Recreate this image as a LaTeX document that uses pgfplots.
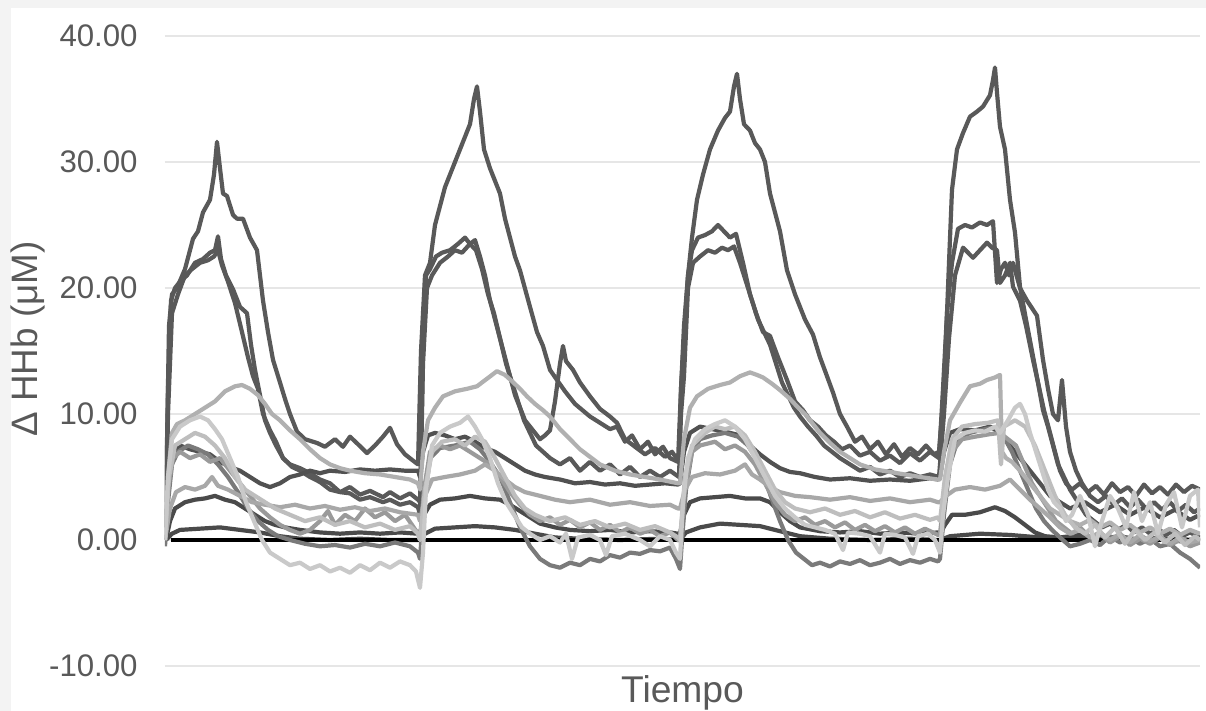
\documentclass[border=0pt]{standalone}
\usepackage{pgfplots}
\pgfplotsset{compat=1.18}
\usepackage{fontspec}
\setmainfont{Liberation Sans}
\definecolor{frame}{HTML}{F3F3F3}
\definecolor{gridc}{HTML}{E6E6E6}
\definecolor{lab}{HTML}{595959}
\definecolor{dA}{HTML}{595959}
\definecolor{dB}{HTML}{515151}
\definecolor{dC}{HTML}{4A4A4A}
\definecolor{mA}{HTML}{7A7A7A}
\definecolor{mB}{HTML}{9A9A9A}
\definecolor{lA}{HTML}{B0B0B0}
\definecolor{lB}{HTML}{C9C9C9}
\definecolor{lC}{HTML}{A8A8A8}
\definecolor{lD}{HTML}{BEBEBE}
\begin{document}
\begin{tikzpicture}
\useasboundingbox (-82.5pt,-22.5pt) rectangle (520.5pt,333pt);
\fill[frame] (-82.5pt,-22.5pt) rectangle (520.5pt,333pt);
\fill[white] (-77pt,-22.5pt) rectangle (520.5pt,329pt);
\begin{axis}[
  scale only axis, width=517.5pt, height=315pt,
  xmin=165, xmax=1200, ymin=-10, ymax=40,
  axis line style={draw=none},
  major tick length=0pt,
  xtick=\empty,
  ytick={-10,0,10,20,30,40},
  ymajorgrids,
  grid style={color=gridc, line width=1pt},
  /pgf/number format/assume math mode=true,
  yticklabel={\pgfmathprintnumber[fixed,fixed zerofill,precision=2]{\tick}},
  yticklabel style={font=\fontsize{15.6}{18}\selectfont, text=lab, anchor=east, inner sep=0pt, xshift=-13.5pt},
  xlabel={Tiempo},
  xlabel style={font=\fontsize{18.6}{21}\selectfont, text=lab, at={(axis description cs:0.5,-0.0143)}, anchor=north, inner sep=0pt},
  ylabel={Δ HHb (μM)},
  ylabel style={font=\fontsize{18.4}{21}\selectfont, text=lab, at={(axis description cs:-0.1324,0.519)}, anchor=center, rotate=0, inner sep=0pt},
  every axis plot/.append style={line width=2.1pt, line join=round, mark=none},
]
% S1 tallest
\addplot[dA] coordinates {(166,3)(169,17)(172,19.5)(177,20)(185,21.5)(193,23.9)(198,24.5)(203,26)(210,27)(214,29)(217,31.6)(220,29.5)(223,27.5)(227,27.3)(233,25.8)(237,25.5)(243,25.5)(250,24)(257,23)(263,19)(268,16.5)(273,14.3)(280,12.5)(285,11.2)(290,10)(297,8.6)(305,8)(317,7.7)(325,7.4)(335,8)(343,7.4)(350,8.2)(358,7.6)(367,6.9)(375,7.5)(383,8.2)(390,8.9)(397,7.6)(405,6.8)(413,6.3)(418,6)
(421,15)(425,21)(430,22)(435,25)(440,26.5)(445,28)(450,29)(455,30)(460,31)(465,32)(470,33)(474,35)(477,36)(480,34)(484,31)(490,29.5)(495,28.5)(500,27.5)(505,25.5)(510,24)(515,22.5)(520,21.4)(530,18.5)(537,16.5)(543,15.4)(550,13.5)(557,12.7)(565,11.8)(575,10.8)(590,9.8)(600,9.3)(610,8.8)(617,9)(625,7.8)(632,8.3)(640,7.2)(648,7.8)(655,6.8)(663,7.4)(670,6.5)(678,6.2)
(681,12)(684,17)(688,21)(692,24)(697,27)(703,29)(710,31)(718,32.5)(725,33.5)(730,34)(734,36)(737,37)(740,35)(744,33)(750,32.5)(755,31.5)(760,31)(765,30)(770,27.5)(775,26)(780,24.5)(787,21.4)(795,19.5)(805,17.5)(813,16.3)(820,14.5)(827,13)(833,11.7)(840,10)(847,9)(855,7.8)(862,8.2)(870,7.2)(878,7.8)(886,6.8)(894,7.6)(902,6.6)(910,7.3)(918,6.8)(926,7.5)(934,6.8)(939,7)
(942,10)(945,14)(949,22)(952,27.8)(957,31)(963,32.3)(970,33.6)(977,34)(983,34.4)(990,35.3)(993,36.5)(995,37.5)(997,35.5)(1000,32.8)(1005,31)(1010,27)(1015,24.4)(1020,20.1)(1026,17.5)(1032,15)(1038,12.5)(1044,10.3)(1050,8.5)(1055,7)(1060,5.5)(1066,4.5)(1072,4)(1080,4.5)(1088,3.8)(1096,4.3)(1104,3.6)(1112,4.5)(1120,3.8)(1128,4.2)(1136,3.5)(1144,4.4)(1152,3.7)(1160,4.2)(1168,3.6)(1176,4.4)(1184,3.8)(1192,4.3)(1200,4)};
% S2
\addplot[dA] coordinates {(166,2)(168,12)(171,19)(175,20)(180,20.5)(187,21)(195,22)(203,22.3)(210,22.8)(215,23)(218,24.1)(221,22.3)(226,21)(233,19.9)(240,18.5)(247,18)(251,15.5)(255,13.5)(260,11.5)(265,9.5)(270,8.5)(276,7.5)(283,6.5)(290,6)(300,5.7)(310,5.3)(320,4.8)(330,4.5)(340,3.8)(350,4.2)(360,3.6)(370,3.9)(383,3.4)(390,3.8)(400,3.3)(410,3.7)(418,3.2)
(420,3)(423,15)(426,21)(430,21.5)(436,22.5)(442,22.8)(450,23)(458,23.5)(465,24)(470,23.5)(475,23.8)(480,22.5)(485,21)(490,19)(495,17.5)(500,16)(505,14.5)(510,13)(515,11.5)(520,10.5)(525,9.5)(530,9)(535,8.5)(540,8)(545,8.3)(550,8.7)(555,11)(560,14)(563,15.4)(566,14.2)(573,13.5)(580,12.5)(590,11.4)(600,10.4)(610,9.8)(617,9.3)(625,8)(635,7.4)(645,6.8)(655,7.3)(665,6.6)(672,7)(679,6.2)
(681,12)(684,16)(688,21)(692,23)(698,24)(705,24.2)(712,24.5)(718,25)(724,24.5)(730,24)(736,24.3)(743,22)(750,19.5)(756,18)(763,16.5)(770,16.2)(778,14.5)(787,12.7)(795,11)(803,10.3)(810,9.5)(818,9)(826,8.3)(834,7.8)(842,7.2)(850,7.5)(860,6.7)(870,7)(880,6.3)(890,6.7)(900,6.1)(910,6.9)(920,6.3)(930,7)(939,6.5)
(943,12)(947,18)(952,22)(958,24.7)(965,25)(972,24.8)(980,25.2)(987,25)(993,25.3)(997,20.4)(1001,21.5)(1005,22)(1009,21)(1013,22)(1020,20)(1027,19)(1037,17.8)(1043,14.3)(1048,12)(1053,10)(1058,9.5)(1062,12.7)(1066,9)(1070,7)(1076,5.5)(1082,4.5)(1090,3.5)(1098,3)(1106,3.5)(1114,2.8)(1122,3.3)(1130,2.6)(1138,3.2)(1146,2.5)(1154,3)(1162,2.4)(1170,3)(1178,2.3)(1186,2.8)(1194,2.2)(1200,2.5)};
% S3
\addplot[dA] coordinates {(166,1)(168,10)(172,18)(178,19.5)(185,21)(192,21.5)(200,22)(208,22.2)(214,22.5)(218,23)(222,21.8)(228,20.5)(235,18.8)(242,16.5)(248,14.5)(253,13)(258,12)(263,10)(270,8.7)(276,7.8)(283,6.5)(292,5.8)(300,5.5)(310,5)(320,4.6)(330,4)(340,3.8)(350,3.7)(360,3.2)(370,3.4)(383,3)(390,3.2)(400,2.8)(410,3)(418,2.6)
(420,2)(423,14)(427,20)(432,21)(440,22)(448,22.5)(455,23)(462,22.8)(470,23.5)(476,23)(482,21.5)(488,19.5)(494,18)(500,16)(506,14)(512,12.5)(518,11)(524,9.5)(530,8.5)(536,7.5)(543,7)(550,6.5)(560,6)(570,6.5)(580,5.5)(590,6.2)(600,5.5)(610,6)(620,5.2)(630,5.8)(640,5)(650,5.5)(660,5)(670,5.5)(679,5)
(681,10)(684,13)(688,20)(693,22)(700,22.5)(708,23)(715,22.8)(722,23.2)(728,23)(734,23.3)(740,22)(746,20.5)(752,19)(758,17.5)(764,16.5)(770,15.5)(776,14)(782,12.5)(788,11.5)(794,10.5)(800,9.8)(808,9)(816,8.3)(824,7.5)(832,7)(840,6.5)(850,6)(860,5.5)(870,5.8)(880,5.2)(890,5.5)(900,5)(910,5.3)(920,5)(930,5.2)(939,5)
(944,10)(949,16)(955,21)(963,23.2)(968,22.8)(973,22.4)(980,23)(987,23.6)(992,23.2)(997,23)(1000,20.4)(1005,21)(1010,22)(1013,20.1)(1020,19)(1026,17)(1033,14.3)(1038,12.5)(1043,10.3)(1048,9)(1053,7.5)(1058,6)(1064,5)(1070,4)(1078,3)(1086,2)(1094,1.5)(1102,1)(1110,1.3)(1118,0.8)(1126,1.2)(1134,0.6)(1142,1)(1150,0.5)(1158,0.9)(1166,0.4)(1174,0.8)(1182,0.3)(1190,0.6)(1200,0.2)};
% S4
\addplot[dB] coordinates {(166,1)(169,5)(173,7)(180,7.5)(190,7.2)(200,7)(210,6.8)(220,6.2)(230,5.8)(240,5.5)(250,5)(260,4.5)(270,4.2)(280,4.5)(290,5)(300,5.2)(310,5.5)(320,5.3)(330,5.5)(345,5.4)(360,5.6)(375,5.5)(390,5.6)(405,5.5)(418,5.5)
(420,5)(423,7)(428,8.3)(435,8.5)(445,8.3)(455,8)(465,8.2)(475,7.8)(485,7.3)(495,7)(505,6.5)(515,6)(525,5.5)(535,5.2)(545,5)(560,4.8)(575,4.5)(590,4.6)(605,4.4)(620,4.5)(635,4.3)(650,4.4)(665,4.5)(678,4.4)
(680,4.5)(684,7)(690,8.5)(700,9)(712,8.8)(725,8.6)(740,8.3)(750,7.5)(760,6.8)(770,6.2)(780,5.7)(790,5.4)(800,5.3)(815,5)(830,4.8)(850,4.9)(870,4.7)(890,4.8)(910,4.7)(930,4.9)(938,4.8)
(940,5)(944,7)(950,8.5)(960,8.8)(975,8.7)(990,9)(1000,8.5)(1010,7.5)(1020,6.5)(1030,5.5)(1040,4.5)(1050,3.5)(1060,3)(1070,2.5)(1085,3)(1100,2.2)(1115,2.8)(1130,2)(1145,2.6)(1160,1.8)(1175,2.4)(1190,1.6)(1200,2)};
% S5
\addplot[dC] coordinates {(166,0)(170,1.5)(175,2.5)(185,3)(195,3.2)(205,3.3)(215,3.5)(225,3.2)(235,3)(245,2.5)(255,2)(265,1.5)(275,1.2)(285,1)(300,0.8)(320,0.6)(340,0.5)(360,0.6)(380,0.5)(400,0.6)(418,0.5)
(420,0.5)(424,2)(430,2.8)(440,3.2)(455,3.3)(470,3.5)(485,3.3)(500,3.2)(510,2.8)(520,2.3)(530,1.8)(540,1.3)(555,1)(570,0.8)(590,0.7)(610,0.8)(630,0.6)(650,0.7)(670,0.6)(678,0.5)
(680,0.5)(684,2)(690,3)(700,3.3)(715,3.4)(730,3.5)(745,3.3)(760,3.3)(770,3)(780,2.2)(790,1.5)(800,1)(820,0.7)(840,0.6)(860,0.7)(880,0.5)(900,0.6)(920,0.5)(938,0.6)
(940,0.5)(945,1.2)(952,2)(965,2)(980,2.2)(995,2.6)(1005,2.3)(1015,1.8)(1025,1.2)(1035,0.6)(1045,0.3)(1060,0.2)(1080,0.4)(1100,0.1)(1120,0.3)(1140,0)(1160,0.2)(1180,-0.1)(1200,0.1)};
% S6
\addplot[dC] coordinates {(166,0)(172,0.5)(180,0.8)(200,0.9)(220,1)(240,0.8)(260,0.6)(280,0.3)(300,0.1)(330,0)(360,0.1)(390,0)(418,0)
(420,0)(425,0.5)(435,0.9)(455,1)(475,1.1)(495,1)(515,0.8)(535,0.5)(555,0.2)(580,0.1)(620,0)(660,0.1)(678,0)
(680,0)(686,0.6)(700,1)(720,1.3)(740,1.2)(760,1.1)(780,0.7)(800,0.3)(830,0.1)(870,0)(910,0.1)(938,0)
(940,0)(950,0.3)(980,0.5)(1010,0.4)(1040,0.2)(1080,0.1)(1120,0)(1160,0.1)(1200,0)};
% zero line
\addplot[black, line width=2pt] coordinates {(171,0)(1200,0)};
% S7 medium, negative baseline
\addplot[mA] coordinates {(165,-0.5)(168,3)(172,6)(178,7)(188,7.5)(198,7.2)(208,6.8)(218,6)(228,5)(238,3.8)(248,2.5)(258,1.5)(268,0.8)(278,0.3)(290,0)(305,-0.3)(320,-0.5)(335,-0.4)(350,-0.6)(365,-0.3)(380,-0.5)(395,-0.2)(410,-0.5)(418,-1)
(420,-1.5)(424,3)(430,6.5)(440,7.3)(455,7.5)(470,7.8)(480,7.2)(490,6.2)(500,5)(510,3)(520,1)(530,-0.5)(540,-1.5)(550,-2)(560,-2.2)(570,-1.8)(580,-2)(590,-1.5)(600,-1.7)(610,-1.2)(620,-1.4)(630,-1)(640,-1.1)(650,-0.8)(660,-0.9)(670,-0.6)(676,-1.5)(680,-2.3)
(682,0)(686,4)(692,7)(700,8)(712,8.3)(725,8.5)(738,8.2)(748,7.5)(756,6.5)(764,5)(772,3.2)(780,1.5)(788,0)(796,-1)(804,-1.5)(812,-2)(820,-1.8)(830,-2.1)(840,-1.7)(850,-1.9)(860,-1.6)(870,-2)(880,-1.8)(890,-1.5)(900,-1.9)(910,-1.6)(920,-1.8)(930,-1.5)(938,-1.7)
(940,-1.5)(944,2)(950,6)(958,8)(970,8.5)(985,8.8)(998,9)(1005,8)(1012,7)(1020,5.5)(1028,4)(1036,2.5)(1044,1.5)(1052,0.8)(1060,0.2)(1070,-0.5)(1080,-0.3)(1090,0)(1100,-0.4)(1110,0.3)(1120,-0.2)(1130,0.2)(1140,-0.3)(1150,0.1)(1160,-0.5)(1170,-0.3)(1180,-1)(1190,-1.5)(1200,-2.2)};
% S11 medium-light
\addplot[mB] coordinates {(165,0)(168,4)(173,6.5)(180,7)(190,6.5)(200,6.8)(210,6.2)(220,6.5)(230,5.5)(240,4.5)(250,3.5)(260,2.5)(270,1.8)(280,1.2)(290,0.8)(300,0.5)(310,0.8)(320,1.5)(328,2.3)(335,1.2)(345,2)(355,1.5)(365,2.5)(375,1.8)(385,2.2)(395,1.5)(405,2)(412,1.2)(418,0.5)
(420,0)(424,4)(430,7)(440,7.5)(450,7.2)(460,7.5)(470,7)(480,6.5)(490,6)(500,5)(510,3.8)(520,2.8)(530,2)(540,1.5)(550,1.8)(560,1.2)(570,1.6)(580,1)(590,1.4)(600,0.8)(610,1.2)(620,0.6)(630,1)(640,0.5)(650,0.8)(660,0.3)(670,0.6)(678,0)
(680,0)(685,4)(692,7)(700,7.5)(715,7.8)(725,7.2)(735,7.5)(745,7)(755,6)(765,4.5)(775,3)(785,2)(795,1.5)(805,1.8)(815,1.2)(825,1.5)(835,1)(845,1.4)(855,0.8)(865,1.2)(875,0.7)(885,1.1)(895,0.6)(905,1)(915,0.5)(925,0.9)(938,0.4)
(940,0.5)(945,4)(952,7)(962,8)(975,8.2)(990,8.4)(1000,8.5)(1008,8)(1016,7.5)(1024,6)(1032,4.5)(1040,3.5)(1048,2.5)(1056,1.5)(1064,1)(1072,0.5)(1080,1)(1090,0.2)(1100,0.5)(1110,-0.2)(1120,0.3)(1130,-0.4)(1140,0.1)(1150,-0.3)(1160,0.2)(1170,-0.4)(1180,0)(1190,-0.5)(1200,-0.2)};
% S10
\addplot[lC] coordinates {(165,0)(170,2.5)(176,3.8)(185,4.2)(195,4)(205,4.3)(212,5)(218,4.3)(228,4)(240,3.5)(252,3)(265,2.8)(280,2.6)(295,2.8)(310,2.5)(325,2.7)(340,2.4)(355,2.6)(370,2.3)(385,2.5)(400,2.2)(418,2)
(420,1.5)(425,3.5)(432,4.8)(445,5)(460,5.2)(475,5.5)(485,6)(495,5.5)(505,4.8)(515,4.2)(525,3.8)(540,3.5)(555,3.2)(570,3)(590,3.2)(610,2.8)(630,3)(650,2.7)(670,2.8)(678,2.5)
(680,2.5)(685,4)(692,5)(705,5.3)(720,5.2)(735,5.5)(745,6)(752,5.2)(760,4.8)(770,4.2)(780,3.8)(795,3.5)(810,3.4)(830,3.2)(850,3.4)(870,3.1)(890,3.3)(910,3)(930,3.2)(938,3)
(940,3)(946,3.5)(955,4)(970,4.2)(985,4)(1000,4.3)(1010,4.8)(1020,4)(1030,3.2)(1040,2.5)(1050,1.8)(1060,1)(1070,0.5)(1080,0.8)(1090,0.2)(1100,0.6)(1110,0)(1120,0.5)(1130,-0.2)(1140,0.4)(1150,-0.1)(1160,0.3)(1170,-0.3)(1180,0.2)(1190,-0.2)(1200,0)};
% S8 broad light
\addplot[lA] coordinates {(165,0)(168,5)(172,8.5)(177,9.2)(185,9.5)(195,10)(205,10.5)(215,11)(225,11.8)(235,12.2)(242,12.3)(250,12)(258,11.5)(265,10.8)(272,10)(280,9.5)(290,8.7)(300,8)(310,7.2)(320,6.5)(330,6)(340,5.7)(350,5.5)(365,5.3)(380,5.2)(395,5)(410,4.8)(418,4.5)
(420,4)(423,7)(428,9.5)(435,10.5)(443,11.4)(455,11.8)(467,12)(477,12.2)(487,12.8)(497,13.4)(505,13.1)(512,12.6)(520,12)(527,11.4)(535,10.8)(543,10.3)(550,9.8)(560,8.8)(570,8)(580,7.2)(590,6.6)(600,6)(615,5.5)(630,5.2)(645,5)(660,4.8)(678,4.5)
(680,4.5)(684,8)(690,10.5)(697,11.4)(708,12)(720,12.3)(730,12.5)(740,13)(750,13.3)(757,13.1)(763,12.9)(772,12.4)(780,11.9)(790,11.2)(797,10.6)(805,10)(812,9.3)(820,8.5)(830,7.7)(840,7)(850,6.5)(860,6)(875,5.6)(890,5.4)(905,5.2)(920,5)(938,4.8)
(940,4.8)(944,7)(950,9.5)(960,10.9)(970,12.2)(980,12.4)(987,12.7)(995,12.9)(1000,13.1)(1002,7)(1006,6.5)(1012,6.2)(1020,5.5)(1030,4.5)(1040,3.5)(1050,2.5)(1060,2)(1070,1.5)(1080,1.2)(1090,1.6)(1100,1)(1110,1.4)(1120,0.8)(1130,1.2)(1140,0.6)(1150,1)(1160,0.5)(1170,0.9)(1180,0.4)(1190,0.8)(1200,0.5)};
% S12
\addplot[lD] coordinates {(165,0)(169,5)(175,7.5)(185,8)(195,8.5)(205,8.2)(215,7.5)(225,6.5)(235,5)(245,4)(255,3.5)(265,3)(275,2.5)(290,2)(305,1.5)(320,1.8)(335,1.2)(350,1.5)(365,1)(380,1.3)(395,0.8)(410,1.1)(418,0.5)
(420,0)(425,4)(432,7)(442,7.8)(455,8)(465,7.5)(475,8.2)(485,7.8)(495,6.5)(505,5)(515,3.5)(525,2.5)(535,2)(550,1.5)(565,1.8)(580,1.2)(595,1.5)(610,1)(625,1.3)(640,0.8)(655,1.1)(670,0.6)(678,0.2)
(680,0)(685,5)(692,7.5)(705,8.5)(715,9)(725,8.8)(735,9)(745,8.3)(755,7)(765,5.5)(775,4)(785,3)(795,2.5)(810,2.2)(825,2.5)(840,2)(855,2.3)(870,1.8)(885,2.2)(900,1.7)(915,2)(930,1.6)(938,1.8)
(940,1.5)(945,5)(952,8)(962,9)(975,9.2)(988,9.3)(998,9.5)(1001,6)(1004,9)(1015,9.5)(1025,9)(1035,7.5)(1045,5.5)(1055,3.5)(1065,2)(1075,1)(1085,0.5)(1095,1.2)(1105,0.2)(1115,1)(1125,-0.3)(1135,0.8)(1145,0)(1155,0.6)(1165,-0.2)(1175,0.5)(1185,-0.4)(1195,0.3)(1200,0)};
% S9 lightest
\addplot[lB] coordinates {(165,0)(168,5)(172,8)(180,9)(190,9.5)(200,9.8)(208,9.5)(215,8.8)(222,8)(230,6.5)(238,5)(246,3)(254,1.5)(262,0)(270,-1)(280,-1.5)(290,-2)(300,-1.8)(310,-2.3)(320,-2)(330,-2.5)(340,-2.2)(350,-2.6)(360,-2)(370,-2.4)(380,-1.8)(390,-2.2)(400,-1.7)(410,-2)(416,-2.5)(420,-3.8)(423,-1)
(426,4)(432,7.5)(440,8.5)(450,9)(460,9.3)(468,9.8)(475,9)(482,8)(490,6.5)(498,4.5)(506,3)(514,2)(522,1)(530,0.5)(540,0)(550,0.3)(560,-0.2)(566,0.5)(572,-1.5)(578,0.2)(590,0.4)(600,0)(606,-1.2)(612,0.3)(625,0.5)(640,0)(650,-0.5)(660,0.3)(670,0)(676,-1)(680,-1.5)
(683,3)(688,6.5)(695,8)(705,8.8)(715,9.2)(725,9.5)(735,9)(745,8)(755,6.5)(765,5)(775,3.5)(785,2.5)(795,1.8)(805,1.2)(815,1)(825,0.8)(835,0.5)(843,-0.8)(848,0.6)(860,0.5)(870,0.3)(880,-1)(885,0.5)(895,0.4)(905,0.2)(913,-1.1)(918,0.3)(928,0.5)(935,0)(940,-1)
(943,2)(948,5)(955,8)(965,8.5)(975,8.7)(985,8.6)(995,9)(1000,8.5)(1008,9.5)(1015,10.5)(1020,10.8)(1025,10)(1030,8.5)(1036,7)(1042,5.5)(1048,4)(1054,3)(1060,2.5)(1066,1.5)(1072,2)(1080,3.5)(1088,2)(1095,-0.5)(1100,1)(1110,3.5)(1118,2.5)(1126,1)(1134,3.8)(1142,1.5)(1150,3)(1158,0.5)(1166,2.8)(1174,3.8)(1182,1)(1190,3.5)(1198,4)(1200,1)};
\end{axis}
\end{tikzpicture}
\end{document}
